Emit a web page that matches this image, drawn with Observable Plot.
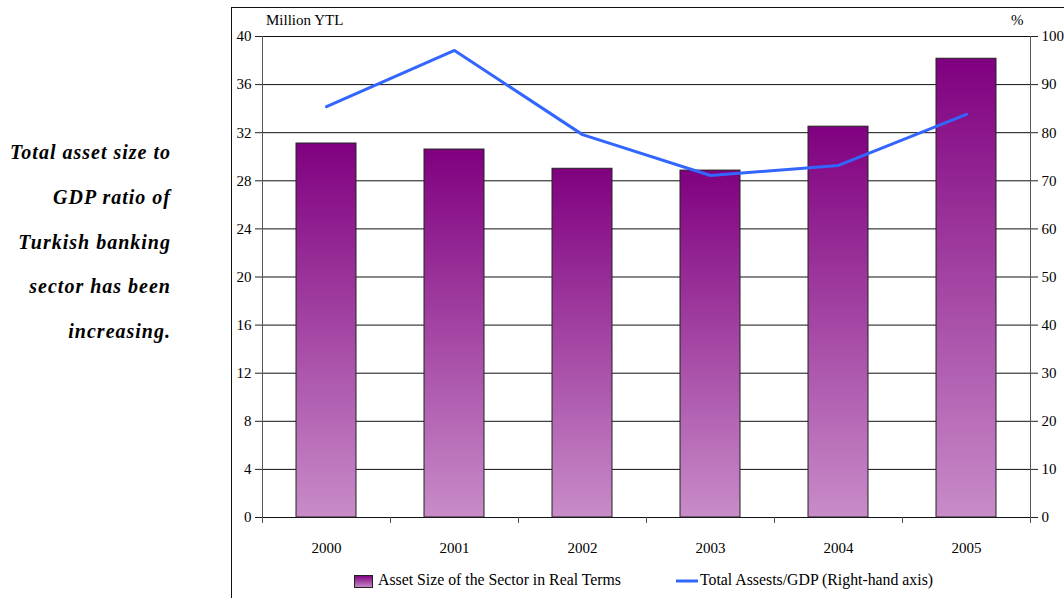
<!DOCTYPE html>
<html>
<head>
<meta charset="utf-8">
<script src="https://cdn.jsdelivr.net/npm/d3@7"></script>
<script src="https://cdn.jsdelivr.net/npm/@observablehq/plot@0.6"></script>
<style>
  html, body { margin: 0; padding: 0; background: #fff; }
  body { width: 1064px; height: 598px; position: relative; overflow: hidden; font-family: "Liberation Serif", "Times New Roman", serif; }
  #chart { position: absolute; left: 0; top: 0; }
  #frame { position: absolute; left: 231px; top: 7px; width: 900px; height: 700px; border-left: 1px solid #111; border-top: 1px solid #111; pointer-events: none; }
  #note { position: absolute; left: 0; top: 130px; width: 171px; text-align: right; font-family: "Liberation Serif", serif; font-weight: bold; font-style: italic; font-size: 20px; line-height: 44.8px; letter-spacing: 1px; color: #000; }
  #legend { position: absolute; left: 0; top: 566px; width: 1064px; height: 32px; font-size: 15.8px; color: #000; }
  .sw { position: absolute; }
  .lt { position: absolute; top: 5px; white-space: nowrap; }
  .unit { position: absolute; font-size: 15px; color: #000; }
</style>
</head>
<body>
<div id="chart"></div>
<div id="frame"></div>
<div id="note">Total asset size to<br>GDP ratio of<br>Turkish banking<br>sector has been<br>increasing.</div>
<div class="unit" style="left:266px; top:12px;">Million YTL</div>
<div class="unit" style="left:1011px; top:12px;">%</div>
<div id="legend">
  <svg class="sw" style="left:354px; top:9px;" width="20" height="14">
    <defs>
      <linearGradient id="legendGrad" x1="0" y1="0" x2="0" y2="1">
        <stop offset="0" stop-color="#800080"/>
        <stop offset="1" stop-color="#c88cc8"/>
      </linearGradient>
    </defs>
    <rect x="0.5" y="0.5" width="18" height="12" fill="url(#legendGrad)" stroke="#222"/>
  </svg>
  <span class="lt" style="left:378px;">Asset Size of the Sector in Real Terms</span>
  <svg class="sw" style="left:676px; top:12px;" width="24" height="6">
    <line x1="0" y1="3" x2="22" y2="3" stroke="#3366ff" stroke-width="3"/>
  </svg>
  <span class="lt" style="left:700px;">Total Assests/GDP (Right-hand axis)</span>
</div>
<script>
// Turkish banking sector, 2000–2005
const years = ["2000", "2001", "2002", "2003", "2004", "2005"];
// Asset size of the sector in real terms (million YTL, left axis)
const assetSize = [31.1, 30.6, 29.0, 28.85, 32.5, 38.15];
// Total assets / GDP (%, right axis)
const assetsToGdp = [85.4, 97.1, 79.6, 71.1, 73.2, 83.8];
// Axis ticks
const leftTicks = [0, 4, 8, 12, 16, 20, 24, 28, 32, 36, 40];
const rightTicks = [0, 10, 20, 30, 40, 50, 60, 70, 80, 90, 100];

// The right axis (0–100 %) shares the left scale (0–40)
const pctToLeft = 40 / 100;

const rows = years.map((year, i) => ({ year, asset: assetSize[i], pct: assetsToGdp[i] }));

const chart = Plot.plot({
  width: 1064,
  height: 566,
  marginLeft: 262,
  marginRight: 34,
  marginTop: 36,
  marginBottom: 49,
  style: { fontFamily: "'Liberation Serif', 'Times New Roman', serif", fontSize: "15px", color: "#000", background: "transparent" },
  x: { type: "band", domain: years, paddingInner: 0.53, paddingOuter: 0.265, label: null },
  y: { domain: [0, 40], label: null },
  marks: [
    // horizontal gridlines across the plot area
    Plot.ruleY(leftTicks, { stroke: "#111", strokeWidth: 1 }),
    // left and right axis lines
    Plot.ruleX([years[0]], { dx: -64, y1: -0.5, y2: 40, stroke: "#555", strokeWidth: 1 }),
    Plot.ruleX([years[years.length - 1]], { dx: 64, y1: 0, y2: 40, stroke: "#555", strokeWidth: 1 }),
    // category boundary ticks below the x axis
    Plot.ruleX(years.slice(1), { dx: -64, y1: -0.5, y2: 0, stroke: "#555", strokeWidth: 1 }),
    Plot.ruleX([years[years.length - 1]], { dx: 64, y1: -0.5, y2: 0, stroke: "#555", strokeWidth: 1 }),
    Plot.barY(rows, { x: "year", y: "asset", fill: "url(#barGrad)", stroke: "#222", strokeWidth: 1 }),
    Plot.line(rows, { x: "year", y: (d) => d.pct * pctToLeft, stroke: "#3366ff", strokeWidth: 3, strokeLinejoin: "miter" }),
    Plot.axisY({ anchor: "left", ticks: leftTicks, tickSize: 7, tickPadding: 4, label: null, fontSize: 15, stroke: "#222" }),
    Plot.axisY({
      anchor: "right",
      ticks: rightTicks.map((v) => v * pctToLeft),
      tickFormat: (d) => String(Math.round(d / pctToLeft)),
      tickSize: 7, tickPadding: 4, label: null, fontSize: 15, stroke: "#222"
    }),
    Plot.axisX({ anchor: "bottom", tickSize: 0, tickPadding: 25, label: null, fontSize: 15 })
  ]
});

// vertical gradient for the bars
const svg = d3.select(chart);
const defs = svg.insert("defs", ":first-child");
const grad = defs.append("linearGradient").attr("id", "barGrad").attr("x1", 0).attr("y1", 0).attr("x2", 0).attr("y2", 1);
grad.append("stop").attr("offset", 0).attr("stop-color", "#800080");
grad.append("stop").attr("offset", 1).attr("stop-color", "#c88cc8");

document.getElementById("chart").appendChild(chart);
</script>
</body>
</html>
